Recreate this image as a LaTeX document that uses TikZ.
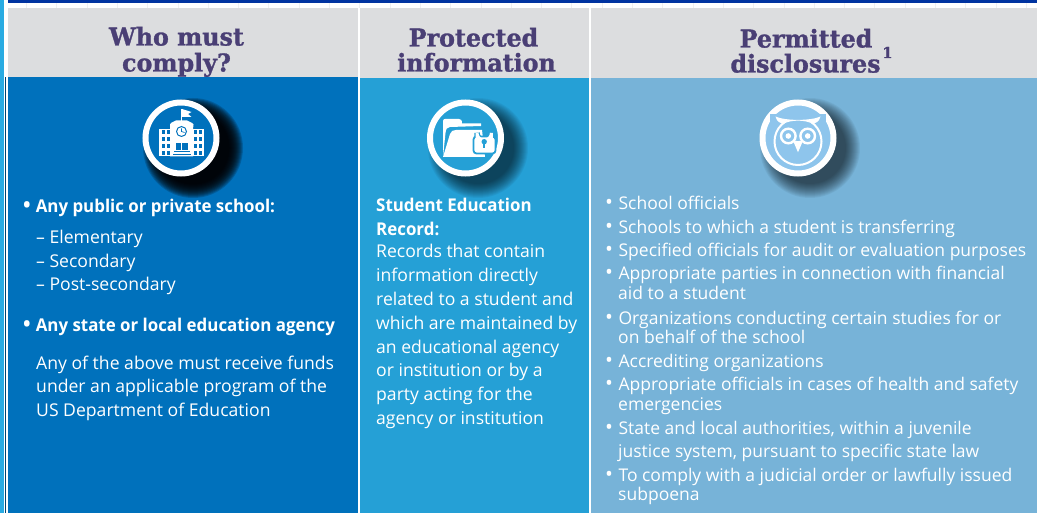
\documentclass[tikz,border=0pt]{standalone}
\usepackage{fontspec}
\setmainfont{Open Sans}[BoldFeatures={FakeStretch=0.96}]
\newfontfamily\headfont{DejaVu Serif}[BoldFont={DejaVu Serif Bold},BoldFeatures={FakeBold=1.2,FakeStretch=0.97}]
\definecolor{colA}{HTML}{0071BC}
\definecolor{colB}{HTML}{25A0D6}
\definecolor{colC}{HTML}{77B3D8}
\definecolor{owlfill}{HTML}{8EC5EC}
\definecolor{headgrey}{HTML}{DCDDDF}
\definecolor{headtext}{HTML}{4A3F75}
\definecolor{topbar}{HTML}{0033A0}
\definecolor{strip}{HTML}{29ABE2}
\tikzset{
  hd/.style={inner sep=0pt,anchor=base,text=headtext,font=\headfont\bfseries\fontsize{24.5}{25}\selectfont},
  bodyt/.style={inner sep=0pt,anchor=base west,text=white,font=\fontsize{17.6}{20}\selectfont},
  smallt/.style={bodyt,font=\fontsize{17.5}{20}\selectfont},
  boldt/.style={bodyt,font=\fontsize{17.6}{20}\selectfont\bfseries},
  ring/.style={draw=white,line width=6pt}
}
\newcommand{\softshadow}[3]{%
  \foreach \r in {50,49,...,36}{\fill[black,opacity=#3] (#1,#2) circle[radius=\r];}
}
\newcommand{\bul}[1]{{\fontsize{21}{20}\selectfont •}\hspace{#1}}
\begin{document}
\begin{tikzpicture}[x=1pt,y=-1pt]
\useasboundingbox (0,0) rectangle (1037,513);
\fill[white] (0,0) rectangle (1037,513);
\fill[strip] (0,0) rectangle (3.7,513);
\fill[topbar] (8,0) rectangle (1037,3);
\foreach \i in {0,...,33}{\fill[black!6] ({26+30.3*\i},3) rectangle ++(1,5);}
% headers
\fill[headgrey] (8,8) rectangle (358,78);
\fill[headgrey] (360,8) rectangle (589,78);
\fill[headgrey] (591,8) rectangle (1037,78);
\node[hd] (h1a) at (176.5,45.5) {Who must};
\node[hd] (h1b) at (176.5,71.5) {comply?};
\node[hd] (h2a) at (473.5,46.5) {Protected};
\node[hd] (h2b) at (476.5,71.5) {information};
\node[hd] (h3a) at (806,47.5) {Permitted};
\node[hd] (h3b) at (805.5,72.5) {disclosures};
\node[hd,font=\headfont\bfseries\fontsize{15}{15}\selectfont] (h3c) at (887.5,58) {1};
% columns
\fill[colA] (7.5,77) rectangle (358,513);
\fill[colB] (360,78) rectangle (589,513);
\fill[colC] (591,78) rectangle (1037,513);
\fill[black!40!colA] (5,77) rectangle (6,513);
% shadows
\softshadow{193}{148}{0.17}
\softshadow{478}{148}{0.05}
\softshadow{810}{148}{0.05}
% icon discs
\fill[colA] (181,138) circle[radius=35.5];
\draw[ring] (181,138) circle[radius=35.5];
\fill[colB] (465.5,138) circle[radius=35.5];
\draw[ring] (465.5,138) circle[radius=35.5];
\fill[owlfill] (798,138) circle[radius=35.5];
\draw[ring] (798,138) circle[radius=35.5];
% school
\fill[white] (159,129) rectangle (204,156.5);
\fill[white] (170,124.5) -- (171,123) -- (176,120.5) -- (187,120.5) -- (192,123) -- (193.5,124.5) -- (193,129) -- (193,156.5) -- (170,156.5) -- cycle;
\fill[white] (181,109) rectangle (182,121);
\fill[white] (182,109) -- (191.5,112) -- (188,114) -- (191.5,117) -- (182,117) -- cycle;
\foreach \wx in {162,166.5,194,198.5}{
  \foreach \wy in {130.5,136.8,144,151}{
    \fill[colA] (\wx,\wy) rectangle ++(3,4);
  }}
\fill[colA] (181.5,131.5) circle[radius=5.5];
\fill[white] (181.5,131.5) circle[radius=4.3];
\draw[colA,line width=.7pt] (181.5,128.5) -- (181.5,131.5) -- (184.5,132.5);
\fill[colA] (176,143) rectangle (187.5,150);
\draw[white,line width=.6pt] (181.7,143) -- (181.7,150);
\fill[colA] (174,151.2) rectangle (189.5,152.2);
\fill[colA] (173,153.8) rectangle (190.5,155);
% folder
\fill[white] (443,157) -- (443,121) .. controls (443,119.5) and (444,119) .. (445,119) -- (459,119) .. controls (461,119) and (462,120) .. (462,123.5) -- (481,123.5) -- (481,126) -- (450,127) .. controls (447,127) and (446,129) .. (445.5,133) -- cycle;
\fill[white] (443,157) -- (450,134) .. controls (451,131) and (453,130) .. (456,130) -- (482,130) -- (485,157) -- cycle;
\draw[colB,line width=5.5pt] (477,138) -- (477,133) arc[start angle=180,end angle=0,radius=7.2] -- (491.4,138);
\draw[colB,line width=1.8pt,fill=white,rounded corners=3pt] (473.5,136.5) rectangle (495.5,153.5);
\draw[white,line width=3pt] (477,138) -- (477,133) arc[start angle=180,end angle=0,radius=7.2] -- (491.4,138);
\fill[colB] (484.2,141.7) circle[radius=2.7];
\fill[colB] (483.2,142) rectangle (485.2,148);
% owl
\draw[white,line width=2pt] (798,141.5) circle[radius=23.5];
\fill[owlfill] (770,114) rectangle (826,123);
\fill[white] (775.5,116.5) .. controls (785,121) and (811,121) .. (820.5,116.5) .. controls (819,122) and (816,123) .. (813,124) .. controls (805,119.5) and (791,119.5) .. (783,124) .. controls (780,123) and (777,122) .. (775.5,116.5) -- cycle;
\draw[white,line width=2.4pt] (788.3,136) circle[radius=7.3];
\draw[white,line width=2.4pt] (807.7,136) circle[radius=7.3];
\fill[white] (788.3,136) circle[radius=2.8];
\fill[white] (807.7,136) circle[radius=2.8];
\fill[white] (792.7,140) -- (798,152.3) -- (803.3,140) .. controls (800,141.5) and (796,141.5) .. (792.7,140) -- cycle;
% column 1 text
\node[boldt] (a1) at (23,213) {\bul{5pt}Any public or private school:};
\node[bodyt] (a2) at (36,244) {– Elementary};
\node[bodyt] (a3) at (36,268) {– Secondary};
\node[bodyt] (a4) at (36,291) {– Post-secondary};
\node[boldt] (a5) at (23,331) {\bul{5pt}Any state or local education agency};
\node[bodyt] (a6) at (36,369.5) {Any of the above must receive funds};
\node[bodyt] (a7) at (36,392.5) {under an applicable program of the};
\node[bodyt] (a8) at (36,416.5) {US Department of Education};
% column 2 text
\node[boldt] (b1) at (376,211.5) {Student Education};
\node[boldt] (b2) at (376,235.5) {Record:};
\node[bodyt] (b3) at (376,258) {Records that contain};
\node[bodyt] (b4) at (376,282) {information directly};
\node[bodyt] (b5) at (376,306) {related to a student and};
\node[bodyt] (b6) at (376,329.5) {which are maintained by};
\node[bodyt] (b7) at (376,353) {an educational agency};
\node[bodyt] (b8) at (376,376.5) {or institution or by a};
\node[bodyt] (b9) at (376,400) {party acting for the};
\node[bodyt] (b10) at (376,424) {agency or institution};
% column 3 text
\node[smallt] (c1) at (605,210) {\bul{5.5pt}School officials};
\node[smallt] (c2) at (605,233.5) {\bul{5.5pt}Schools to which a student is transferring};
\node[smallt] (c3) at (605,257) {\bul{5.5pt}Specified officials for audit or evaluation purposes};
\node[smallt] (c4) at (605,280) {\bul{5.5pt}Appropriate parties in connection with financial};
\node[smallt] (c5) at (618,300) {aid to a student};
\node[smallt] (c6) at (605,324) {\bul{5.5pt}Organizations conducting certain studies for or};
\node[smallt] (c7) at (618,343) {on behalf of the school};
\node[smallt] (c8) at (605,367) {\bul{5.5pt}Accrediting organizations};
\node[smallt] (c9) at (605,390) {\bul{5.5pt}Appropriate officials in cases of health and safety};
\node[smallt] (c10) at (618,410) {emergencies};
\node[smallt] (c11) at (605,434) {\bul{5.5pt}State and local authorities, within a juvenile};
\node[smallt] (c12) at (618,457) {justice system, pursuant to specific state law};
\node[smallt] (c13) at (605,481) {\bul{5.5pt}To comply with a judicial order or lawfully issued};
\node[smallt] (c14) at (618,500) {subpoena};
\end{tikzpicture}
\end{document}
